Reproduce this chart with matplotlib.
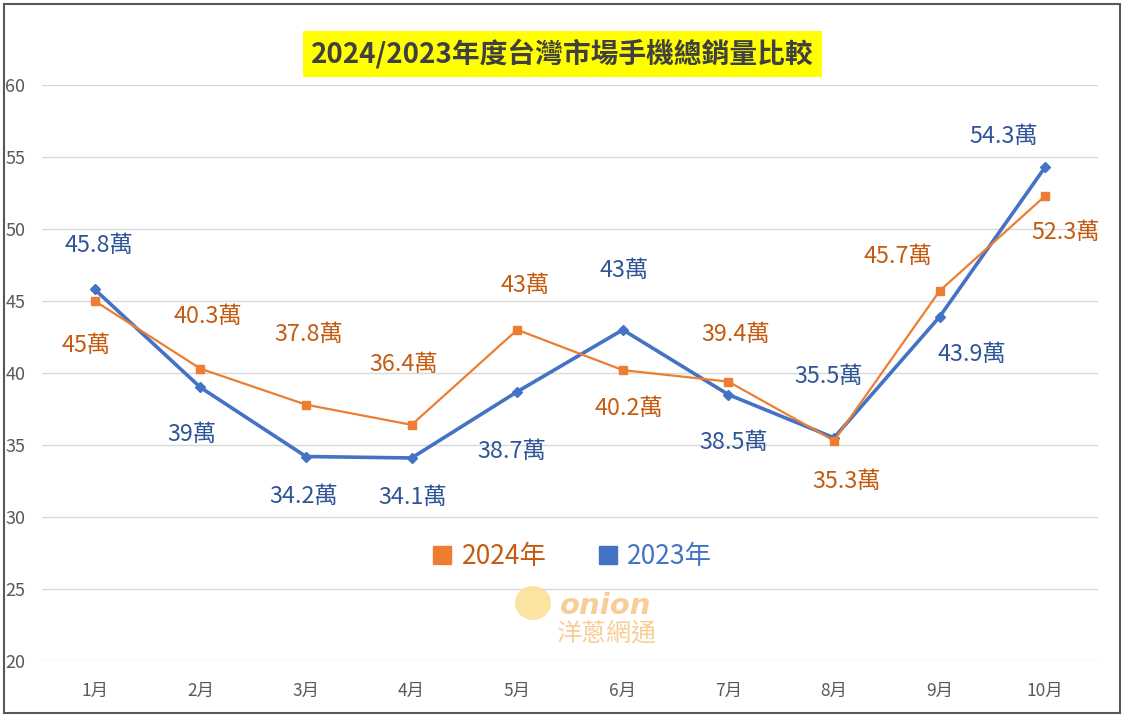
import matplotlib
matplotlib.use("Agg")
import matplotlib.pyplot as plt
from matplotlib.lines import Line2D
from matplotlib.patches import Rectangle, Ellipse

plt.rcParams['font.family'] = ['Noto Sans CJK TC', 'DejaVu Sans']

# data (萬台)
months = ['1月', '2月', '3月', '4月', '5月', '6月', '7月', '8月', '9月', '10月']
sales_2024 = [45, 40.3, 37.8, 36.4, 43, 40.2, 39.4, 35.3, 45.7, 52.3]
sales_2023 = [45.8, 39, 34.2, 34.1, 38.7, 43, 38.5, 35.5, 43.9, 54.3]
y_ticks = [20, 25, 30, 35, 40, 45, 50, 55, 60]

# label offsets in pixels (dx, dy), labels were hand placed in the original
off_2024 = [(-9, -44), (7, 52), (3, 70), (-8, 60), (8, 44),
            (6, -38), (7, 47), (13, -41), (-42, 34), (21, -37)]
off_2023 = [(4, 44), (-8, -47), (-2, -40), (1, -40), (-5, -60),
            (1, 59), (5, -48), (-5, 61), (32, -38), (-41, 31)]

C24, C24_TXT = '#ED7D31', '#C55A11'
C23, C23_TXT = '#4472C4', '#2F5597'

W, H = 1126, 718
fig = plt.figure(figsize=(W / 100, H / 100), dpi=100)
ax = fig.add_axes([42 / W, 57 / H, 1056 / W, 576 / H])

x = list(range(len(months)))
ax.plot(x, sales_2023, color=C23, lw=2.6, marker='D', ms=5, zorder=3)
ax.plot(x, sales_2024, color=C24, lw=1.6, marker='s', ms=6, zorder=4)

for i, v in enumerate(sales_2024):
    ax.annotate(f'{v:g}萬', (i, v), xytext=off_2024[i], textcoords='offset pixels',
                ha='center', va='center', fontsize=16.8, color=C24_TXT, zorder=5)
for i, v in enumerate(sales_2023):
    ax.annotate(f'{v:g}萬', (i, v), xytext=off_2023[i], textcoords='offset pixels',
                ha='center', va='center', fontsize=16.8, color=C23_TXT, zorder=5)

ax.set_xlim(-0.5, len(months) - 0.5)
ax.set_ylim(20, 60)
ax.set_yticks(y_ticks)
ax.set_xticks(x)
ax.set_xticklabels(months)
ax.grid(axis='y', color='#D9D9D9', lw=1)
ax.set_axisbelow(True)
for s in ax.spines.values():
    s.set_visible(False)
ax.tick_params(axis='both', length=0, colors='#595959')
ax.tick_params(axis='y', pad=12, labelsize=13)
ax.tick_params(axis='x', pad=15, labelsize=12.5)

# legend
handles = [Line2D([], [], color=C24, marker='s', ls='none', ms=13),
           Line2D([], [], color=C23, marker='s', ls='none', ms=13)]
leg = ax.legend(handles, ['2024年', '2023年'], loc='center',
                bbox_to_anchor=(572 / W, 1 - 557 / H), bbox_transform=fig.transFigure,
                ncol=2, frameon=False, fontsize=19, columnspacing=1.9,
                handletextpad=0.35, handlelength=0.8)
leg.get_texts()[0].set_color(C24_TXT)
leg.get_texts()[1].set_color(C23)

# title
fig.text(562.5 / W, 1 - 54 / H, '2024/2023年度台灣市場手機總銷量比較', ha='center', va='center',
         fontsize=20, fontweight='bold', color='#404040',
         bbox=dict(boxstyle='square,pad=0.3', fc='#FFFF00', ec='none'))

# watermark
fig.patches.append(Ellipse((533 / W, 1 - 603 / H), 36 / W, 34 / H, transform=fig.transFigure,
                           fc='#FBE08E', ec='none', alpha=0.85, zorder=0))
fig.text(606 / W, 1 - 606 / H, 'onion', ha='center', va='center', fontsize=21,
         fontweight='bold', fontstyle='italic', family='DejaVu Sans',
         color='#F8C98C', alpha=0.9)
fig.text(607 / W, 1 - 633 / H, '洋蔥網通', ha='center', va='center', fontsize=18,
         color='#F8C98C', alpha=0.9)

# outer frame
fig.patches.append(Rectangle((4 / W, 5 / H), 1116 / W, 709 / H, transform=fig.transFigure,
                             fill=False, ec='#595959', lw=1.5))

fig.savefig('out.png', dpi=100)
